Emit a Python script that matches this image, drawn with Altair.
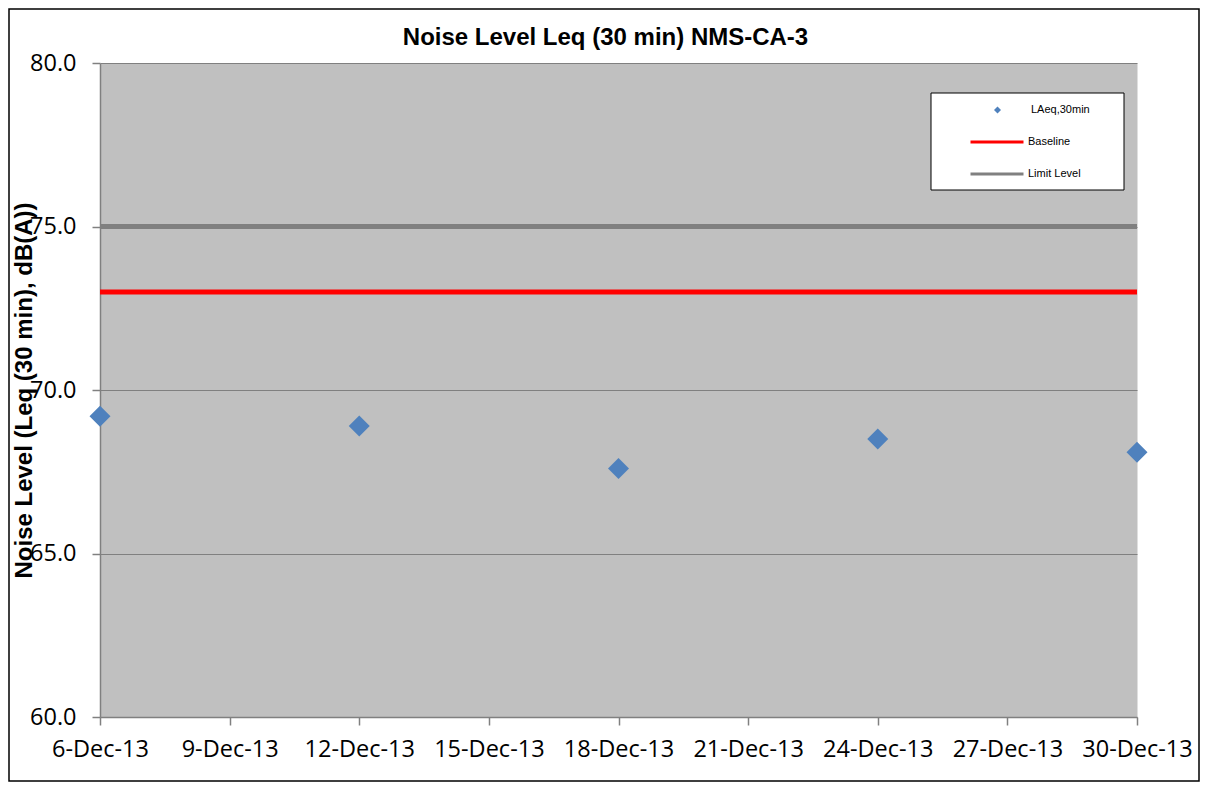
import altair as alt
import pandas as pd

# ---- data ----
dates = ["2013-12-06", "2013-12-12", "2013-12-18", "2013-12-24", "2013-12-30"]
levels = [69.2, 68.9, 67.6, 68.5, 68.1]
point_name = "LAeq,30min"
point_color = "#4F81BD"
ref_names = ["Baseline", "Limit Level"]
ref_colors = ["#FF0000", "#808080"]
ref_values = [73.0, 75.0]
tick_days = [6, 9, 12, 15, 18, 21, 24, 27, 30]
y_ticks = [60, 65, 70, 75, 80]

pts = pd.DataFrame({"date": dates, "level": levels, "series": point_name})
refs = pd.DataFrame({"series": ref_names, "level": ref_values})

W, H = 1037, 654
FONT_T = "Liberation Sans"
FONT_L = "Open Sans"

pt_legend = alt.Legend(
    title=None, orient="none", legendX=892, legendY=41.5, padding=0,
    symbolType="diamond", symbolSize=49, symbolStrokeWidth=0, symbolOpacity=1,
    labelOffset=28, labelFont=FONT_T, labelFontSize=11, labelColor="black",
)
ref_legend = alt.Legend(
    title=None, orient="none", legendX=890.5, legendY=72.5, padding=0,
    symbolType="M-5.3,0H5.3", symbolSize=100, symbolStrokeWidth=3, symbolOpacity=1,
    rowPadding=19, labelOffset=24.5, labelFont=FONT_T, labelFontSize=11, labelColor="black",
)

x_axis = alt.Axis(
    title=None, grid=False,
    values=[alt.DateTime(year=2013, month=12, date=d, utc=True) for d in tick_days],
    format="%-d-%b-%y", labelFont=FONT_L, labelFontSize=23.5, labelColor="black",
    tickColor="#808080", tickSize=8, tickWidth=1.5, domainColor="#808080", domainWidth=1.5,
    labelPadding=12, labelOverlap=False, labelFlush=False, labelBound=False,
)
y_axis = alt.Axis(
    title="Noise Level (Leq (30 min), dB(A))", values=y_ticks, format=".1f",
    labelFont=FONT_L, labelFontSize=23.5, labelColor="black", labelPadding=16,
    tickColor="#808080", tickSize=8, tickWidth=1.5, domainColor="#808080", domainWidth=1.5,
    grid=True, gridColor="#808080", gridWidth=1,
    titleFont=FONT_T, titleFontSize=24, titleFontWeight="bold", titleColor="black",
    titleX=-69, titleY=H / 2, titleAngle=270, titleAlign="center", titleBaseline="alphabetic",
)
x_enc = alt.X(
    "date:T",
    scale=alt.Scale(type="utc", nice=False, domain=[
        alt.DateTime(year=2013, month=12, date=6, utc=True),
        alt.DateTime(year=2013, month=12, date=30, utc=True)]),
    axis=x_axis,
)
y_scale = alt.Scale(domain=[60, 80], nice=False, zero=False)

one = alt.Data(values=[{"k": 1}])

frame = alt.Chart(one).mark_rect(fill="transparent", stroke="black", strokeWidth=1.5).encode(
    x=alt.value(-91), x2=alt.value(1099), y=alt.value(-54), y2=alt.value(718)
)
legend_box = alt.Chart(one).mark_rect(fill="white", stroke="black", strokeWidth=1).encode(
    x=alt.value(831), x2=alt.value(1024), y=alt.value(30), y2=alt.value(127)
)

rules = alt.Chart(refs).mark_rule(strokeWidth=5).encode(
    y=alt.Y("level:Q", scale=y_scale, axis=y_axis),
    stroke=alt.Stroke("series:N", scale=alt.Scale(domain=ref_names, range=ref_colors), legend=ref_legend),
)
points = alt.Chart(pts).mark_point(shape="diamond", filled=True, size=441, opacity=1).encode(
    x=x_enc,
    y=alt.Y("level:Q", scale=y_scale, axis=y_axis),
    fill=alt.Fill("series:N", scale=alt.Scale(domain=[point_name], range=[point_color]), legend=pt_legend),
)

chart = alt.layer(frame, legend_box, rules, points).properties(
    width=W, height=H,
    background="white",
    autosize=alt.AutoSizeParams(type="none"),
    padding={"left": 92, "top": 55, "right": 63, "bottom": 65},
    title=alt.TitleParams(
        "Noise Level Leq (30 min) NMS-CA-3", font=FONT_T, fontSize=24, fontWeight="bold",
        color="black", anchor="middle", frame="group", offset=-61, baseline="alphabetic", dx=-13,
    ),
).configure_view(fill="#C0C0C0", stroke="transparent")

chart.save("out.html", embed_options={"renderer": "svg", "actions": False})
